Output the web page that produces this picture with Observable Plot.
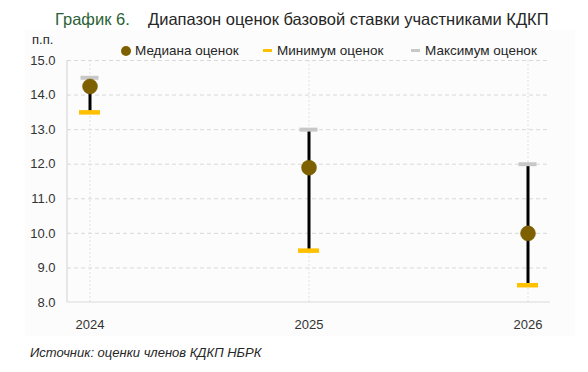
<!DOCTYPE html>
<html>
<head>
<meta charset="utf-8">
<script src="https://cdn.jsdelivr.net/npm/d3@7"></script>
<script src="https://cdn.jsdelivr.net/npm/@observablehq/plot@0.6"></script>
<style>
  body { margin: 0; background: #fff; }
  #wrap { position: relative; width: 588px; height: 372px; background: #fff; font-family: "Liberation Sans", Arial, sans-serif; color: #262626; overflow: hidden; }
  #panel { position: absolute; left: 25px; top: 30px; width: 550px; height: 306px; background: #fcfcfc; }
  #chart { position: absolute; left: 0; top: 0; }
  #title { position: absolute; left: 55px; top: 10px; font-size: 16.5px; white-space: nowrap; }
  #title .num { color: #2a6236; }
  #unit { position: absolute; left: 32px; top: 32px; font-size: 13px; }
  .leg { position: absolute; top: 43px; font-size: 13.5px; white-space: nowrap; display: flex; align-items: center; }
  .leg .sw { display: inline-block; margin-right: 4px; }
  #caption { position: absolute; left: 30px; top: 345px; font-size: 13px; font-style: italic; white-space: nowrap; }
</style>
</head>
<body>
<div id="wrap">
  <div id="panel"></div>
  <div id="chart"></div>
  <div id="title"><span class="num">График 6.</span>&nbsp;&nbsp;&nbsp;&nbsp;Диапазон оценок базовой ставки участниками КДКП</div>
  <div id="unit">п.п.</div>
  <div class="leg" style="left:121px"><span class="sw" style="width:10px;height:10px;border-radius:50%;background:#7f6000"></span>Медиана оценок</div>
  <div class="leg" style="left:263px"><span class="sw" style="width:9px;height:3px;background:#ffc000;margin-right:5px"></span>Минимум оценок</div>
  <div class="leg" style="left:411px"><span class="sw" style="width:9px;height:3px;background:#c8c8c8;margin-right:5px"></span>Максимум оценок</div>
  <div id="caption">Источник: оценки членов КДКП НБРК</div>
</div>
<script>
const years = ["2024", "2025", "2026"];
const medians = [14.25, 11.9, 10.0];
const minimums = [13.5, 9.5, 8.5];
const maximums = [14.5, 13.0, 12.0];
const yTicks = [8, 9, 10, 11, 12, 13, 14, 15];

const data = years.map((year, i) => ({ year, median: medians[i], min: minimums[i], max: maximums[i] }));

const frameLines = (index, scales, values, dims) => {
  const g = document.createElementNS("http://www.w3.org/2000/svg", "g");
  const x0 = dims.marginLeft, y0 = dims.height - dims.marginBottom;
  const mk = (x1, y1, x2, y2) => {
    const l = document.createElementNS("http://www.w3.org/2000/svg", "line");
    l.setAttribute("x1", x1); l.setAttribute("y1", y1);
    l.setAttribute("x2", x2); l.setAttribute("y2", y2);
    l.setAttribute("stroke", "#d9d9d9"); l.setAttribute("stroke-width", 1.2);
    g.appendChild(l);
  };
  mk(x0, dims.marginTop, x0, y0);
  mk(x0, y0, dims.width - dims.marginRight, y0);
  return g;
};

const chart = Plot.plot({
  width: 588,
  height: 340,
  marginTop: 60,
  marginBottom: 38,
  marginLeft: 67,
  marginRight: 38,
  style: { fontFamily: "'Liberation Sans', Arial, sans-serif", fontSize: "13px", color: "#333", background: "transparent" },
  x: { type: "band", domain: years, paddingInner: 0.904, paddingOuter: 0.052, label: null },
  y: { domain: [8, 15], label: null },
  marks: [
    Plot.gridY(yTicks.filter(d => d > 8), { stroke: "#d9d9d9", strokeOpacity: 1, strokeDasharray: "4,3" }),
    Plot.gridX(years, { stroke: "#e0e0e0", strokeOpacity: 1, strokeDasharray: "2,2" }),
    frameLines,
    Plot.ruleX(data, { x: "year", y1: "min", y2: "max", stroke: "#000", strokeWidth: 3 }),
    Plot.tickY(data, { x: "year", y: "min", stroke: "#ffc000", strokeWidth: 4.5 }),
    Plot.tickY(data, { x: "year", y: "max", stroke: "#c8c8c8", strokeWidth: 4, inset: 1.5 }),
    Plot.dot(data, { x: "year", y: "median", r: 7.5, fill: "#7f6000", stroke: "#7f6000", strokeWidth: 0.5 }),
    Plot.axisY(yTicks, { tickSize: 0, tickPadding: 12, tickFormat: d3.format(".1f"), label: null }),
    Plot.axisX(years, { tickSize: 0, tickPadding: 17, label: null })
  ]
});
document.getElementById("chart").appendChild(chart);
</script>
</body>
</html>
